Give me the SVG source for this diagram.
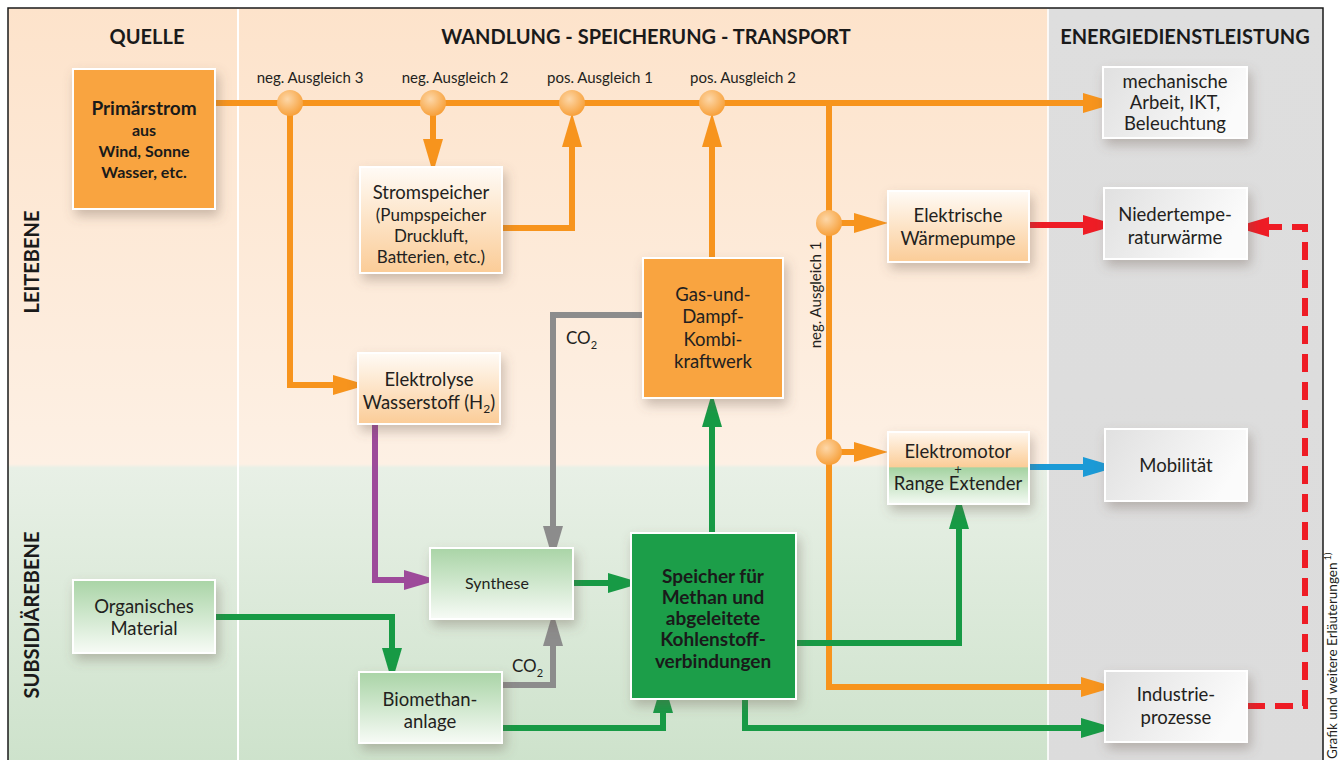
<svg xmlns="http://www.w3.org/2000/svg" width="1341" height="760" viewBox="0 0 1341 760">
<defs>
<style>
.t{font-family:Lato,"Open Sans","Liberation Sans",sans-serif;fill:#231f20;text-anchor:middle;font-size:18.5px}
.tb{font-family:Lato,"Open Sans","Liberation Sans",sans-serif;fill:#1a1a1a;font-weight:bold;text-anchor:middle}
.box{stroke:#ffffff;stroke-width:2;filter:url(#sh)}
.c{fill:none;stroke-width:6;stroke-linejoin:miter}
.or{stroke:#f7941d}
.gr{stroke:#179a45}
.gy{stroke:#8c8c8c}
.pu{stroke:#9d4a9a}
.rd{stroke:#ee1c25}
.bl{stroke:#1b9ad6}
.lbl{font-family:Lato,"Open Sans","Liberation Sans",sans-serif;fill:#231f20;font-size:15px;text-anchor:middle}
.hd{font-size:20px}
</style>
<filter id="sh" x="-30%" y="-30%" width="160%" height="170%">
<feDropShadow dx="3" dy="6" stdDeviation="6" flood-color="#6a5a50" flood-opacity="0.35"/>
</filter>
<linearGradient id="bg" x1="0" y1="0" x2="0" y2="1">
<stop offset="0" stop-color="#fde3cb"/>
<stop offset="0.6" stop-color="#fdf0e4"/>
<stop offset="0.605" stop-color="#e8f0e6"/>
<stop offset="1" stop-color="#cde2cb"/>
</linearGradient>
<linearGradient id="gcol" x1="0" y1="0" x2="0" y2="1">
<stop offset="0" stop-color="#dedede"/>
<stop offset="1" stop-color="#dcdcdc"/>
</linearGradient>
<linearGradient id="gpeach" x1="0" y1="0" x2="0" y2="1">
<stop offset="0" stop-color="#fffbf6"/>
<stop offset="1" stop-color="#fbcc97"/>
</linearGradient>
<linearGradient id="ggreen" x1="0" y1="0" x2="0" y2="1">
<stop offset="0" stop-color="#a9d4a6"/>
<stop offset="1" stop-color="#f7fbf6"/>
</linearGradient>
<linearGradient id="ggray" x1="0" y1="0" x2="1" y2="0.3">
<stop offset="0" stop-color="#e0e0e0"/>
<stop offset="1" stop-color="#fbfbfb"/>
</linearGradient>
<linearGradient id="gmix" x1="0" y1="0" x2="0" y2="1">
<stop offset="0" stop-color="#fff7ee"/>
<stop offset="0.48" stop-color="#fbcd98"/>
<stop offset="0.5" stop-color="#a5d3a2"/>
<stop offset="1" stop-color="#f4faf3"/>
</linearGradient>
<radialGradient id="gdot" cx="0.4" cy="0.35" r="0.65">
<stop offset="0" stop-color="#fdd7a8"/>
<stop offset="1" stop-color="#f7a13c"/>
</radialGradient>
<marker id="aor" markerUnits="userSpaceOnUse" markerWidth="34" markerHeight="20" refX="0" refY="10" orient="auto"><path d="M0,0 L34,10 L0,20 z" fill="#f7941d"/></marker>
<marker id="agr" markerUnits="userSpaceOnUse" markerWidth="34" markerHeight="20" refX="0" refY="10" orient="auto"><path d="M0,0 L34,10 L0,20 z" fill="#179a45"/></marker>
<marker id="agy" markerUnits="userSpaceOnUse" markerWidth="34" markerHeight="20" refX="0" refY="10" orient="auto"><path d="M0,0 L34,10 L0,20 z" fill="#8c8c8c"/></marker>
<marker id="apu" markerUnits="userSpaceOnUse" markerWidth="34" markerHeight="20" refX="0" refY="10" orient="auto"><path d="M0,0 L34,10 L0,20 z" fill="#9d4a9a"/></marker>
<marker id="ard" markerUnits="userSpaceOnUse" markerWidth="34" markerHeight="20" refX="0" refY="10" orient="auto"><path d="M0,0 L34,10 L0,20 z" fill="#ee1c25"/></marker>
<marker id="abl" markerUnits="userSpaceOnUse" markerWidth="34" markerHeight="20" refX="0" refY="10" orient="auto"><path d="M0,0 L34,10 L0,20 z" fill="#1b9ad6"/></marker>
</defs>

<g id="background">
<rect x="0" y="0" width="1341" height="760" fill="#ffffff"/>
<rect x="8" y="8" width="1040" height="760" fill="url(#bg)"/>
<rect x="1048" y="8" width="275" height="760" fill="url(#gcol)"/>
<line x1="238" y1="9" x2="238" y2="760" stroke="#ffffff" stroke-width="2"/>
<line x1="1048" y1="9" x2="1048" y2="760" stroke="#ffffff" stroke-width="2" opacity="0.8"/>
<path d="M8,768 V8 H1323 V768" fill="none" stroke="#1a1a1a" stroke-width="1.5"/>
</g>

<g id="headers">
<text class="tb hd" x="147" y="44">QUELLE</text>
<text class="tb hd" x="646" y="44">WANDLUNG - SPEICHERUNG - TRANSPORT</text>
<text class="tb hd" x="1185" y="44">ENERGIEDIENSTLEISTUNG</text>
<text class="tb hd" x="0" y="0" transform="translate(39,262) rotate(-90)">LEITEBENE</text>
<text class="tb hd" x="0" y="0" transform="translate(39,615) rotate(-90)">SUBSIDIÄREBENE</text>
<text class="lbl" x="310" y="83">neg. Ausgleich 3</text>
<text class="lbl" x="455" y="83">neg. Ausgleich 2</text>
<text class="lbl" x="600" y="83">pos. Ausgleich 1</text>
<text class="lbl" x="743" y="83">pos. Ausgleich 2</text>
<text class="lbl" x="0" y="0" transform="translate(821,295) rotate(-90)">neg. Ausgleich 1</text>
<text x="0" y="0" font-family="Lato,'Open Sans','Liberation Sans',sans-serif" font-size="13.5" fill="#231f20" transform="translate(1337,759) rotate(-90)">Grafik und weitere Erläuterungen<tspan font-size="9" dy="-6"> 1)</tspan></text>
<text class="lbl" x="566" y="344" style="font-size:17px;text-anchor:start">CO<tspan style="font-size:11px" dy="5">2</tspan></text>
<text class="lbl" x="512" y="672" style="font-size:17px;text-anchor:start">CO<tspan style="font-size:11px" dy="5">2</tspan></text>
</g>

<g id="connectors">
<path class="c or" d="M215,103 H1083" marker-end="url(#aor)"/>
<path class="c or" d="M290,103 V385 H333" marker-end="url(#aor)"/>
<path class="c or" d="M433,103 V139" marker-end="url(#aor)"/>
<path class="c or" d="M502,228 H572 V147" marker-end="url(#aor)"/>
<path class="c or" d="M712,258 V147" marker-end="url(#aor)"/>
<path class="c or" d="M829,103 V687 H1081" marker-end="url(#aor)"/>
<path class="c or" d="M829,223 H854" marker-end="url(#aor)"/>
<path class="c or" d="M829,452 H854" marker-end="url(#aor)"/>
<path class="c rd" d="M1029,225 H1083" marker-end="url(#ard)"/>
<path class="c rd" d="M1247,706 H1305 V227 H1269" stroke-dasharray="18,10" marker-end="url(#ard)"/>
<path class="c bl" d="M1029,467 H1083" marker-end="url(#abl)"/>
<path class="c gr" d="M215,617 H392 V648" marker-end="url(#agr)"/>
<path class="c gr" d="M573,583 H608" marker-end="url(#agr)"/>
<path class="c gr" d="M712,533 V427" marker-end="url(#agr)"/>
<path class="c gr" d="M502,728 H663 V713" marker-end="url(#agr)"/>
<path class="c gr" d="M796,643 H959 V529" marker-end="url(#agr)"/>
<path class="c gr" d="M745,699 V728 H1081" marker-end="url(#agr)"/>
<path class="c gy" d="M643,315 H553 V526" marker-end="url(#agy)"/>
<path class="c gy" d="M502,685 H553 V646" marker-end="url(#agy)"/>
<path class="c pu" d="M375,424 V580 H404" marker-end="url(#apu)"/>
<g fill="url(#gdot)">
<circle cx="290" cy="103" r="13"/>
<circle cx="433" cy="103" r="13"/>
<circle cx="572" cy="103" r="13"/>
<circle cx="712" cy="103" r="13"/>
<circle cx="829" cy="223" r="13"/>
<circle cx="829" cy="452" r="13"/>
</g>
</g>

<g id="primaerstrom">
<rect class="box" x="73" y="69" width="142" height="140" fill="#f9a43f"/>
<text class="tb" x="144" y="115" font-size="19">Primärstrom</text>
<text class="tb" x="144" y="136" font-size="16">aus</text>
<text class="tb" x="144" y="157" font-size="16">Wind, Sonne</text>
<text class="tb" x="144" y="178" font-size="16">Wasser, etc.</text>
</g>

<g id="stromspeicher">
<rect class="box" x="360" y="167" width="142" height="106" fill="url(#gpeach)"/>
<text class="t" x="431" y="199">Stromspeicher</text>
<text class="t" x="431" y="221" style="font-size:17px">(Pumpspeicher</text>
<text class="t" x="431" y="242" style="font-size:17px">Druckluft,</text>
<text class="t" x="431" y="263" style="font-size:17px">Batterien, etc.)</text>
</g>

<g id="elektrolyse">
<rect class="box" x="358" y="353" width="142" height="71" fill="url(#gpeach)"/>
<text class="t" x="429" y="386">Elektrolyse</text>
<text class="t" x="429" y="409">Wasserstoff (H<tspan style="font-size:12px" dy="4">2</tspan><tspan dy="-4">)</tspan></text>
</g>

<g id="gud">
<rect class="box" x="643" y="258" width="140" height="140" fill="#f9a43f"/>
<text class="t" x="713" y="301">Gas-und-</text>
<text class="t" x="713" y="323">Dampf-</text>
<text class="t" x="713" y="346">Kombi-</text>
<text class="t" x="713" y="368">kraftwerk</text>
</g>

<g id="waermepumpe">
<rect class="box" x="888" y="191" width="141" height="71" fill="url(#gpeach)"/>
<text class="t" x="958" y="222">Elektrische</text>
<text class="t" x="958" y="245">Wärmepumpe</text>
</g>

<g id="elektromotor">
<rect class="box" x="888" y="432" width="141" height="72" fill="url(#gmix)"/>
<text class="t" x="958" y="458">Elektromotor</text>
<text class="t" x="958" y="474" style="font-size:13px">+</text>
<text class="t" x="958" y="490">Range Extender</text>
</g>

<g id="mechanische">
<rect class="box" x="1103" y="67" width="144" height="71" fill="url(#ggray)"/>
<text class="t" x="1175" y="88">mechanische</text>
<text class="t" x="1175" y="109">Arbeit, IKT,</text>
<text class="t" x="1175" y="130">Beleuchtung</text>
</g>

<g id="niedertemperatur">
<rect class="box" x="1104" y="188" width="143" height="71" fill="url(#ggray)"/>
<text class="t" x="1175" y="221">Niedertempe-</text>
<text class="t" x="1175" y="244">raturwärme</text>
</g>

<g id="mobilitaet">
<rect class="box" x="1105" y="429" width="142" height="72" fill="url(#ggray)"/>
<text class="t" x="1176" y="472">Mobilität</text>
</g>

<g id="industrie">
<rect class="box" x="1105" y="671" width="142" height="71" fill="url(#ggray)"/>
<text class="t" x="1176" y="701">Industrie-</text>
<text class="t" x="1176" y="724">prozesse</text>
</g>

<g id="organisches">
<rect class="box" x="73" y="580" width="142" height="73" fill="url(#ggreen)"/>
<text class="t" x="144" y="613">Organisches</text>
<text class="t" x="144" y="635">Material</text>
</g>

<g id="synthese">
<rect class="box" x="430" y="548" width="143" height="71" fill="url(#ggreen)"/>
<text class="t" x="497" y="589" style="font-size:16px">Synthese</text>
</g>

<g id="speicher">
<rect class="box" x="631" y="533" width="165" height="166" fill="#1f9e4a"/>
<text class="tb" x="713" y="583" font-size="19" fill="#0d2a14">Speicher für</text>
<text class="tb" x="713" y="604" font-size="19" fill="#0d2a14">Methan und</text>
<text class="tb" x="713" y="625" font-size="19" fill="#0d2a14">abgeleitete</text>
<text class="tb" x="713" y="646" font-size="19" fill="#0d2a14">Kohlenstoff-</text>
<text class="tb" x="713" y="668" font-size="19" fill="#0d2a14">verbindungen</text>
</g>

<g id="biomethan">
<rect class="box" x="359" y="672" width="143" height="71" fill="url(#ggreen)"/>
<text class="t" x="430" y="706">Biomethan-</text>
<text class="t" x="430" y="728">anlage</text>
</g>
</svg>
